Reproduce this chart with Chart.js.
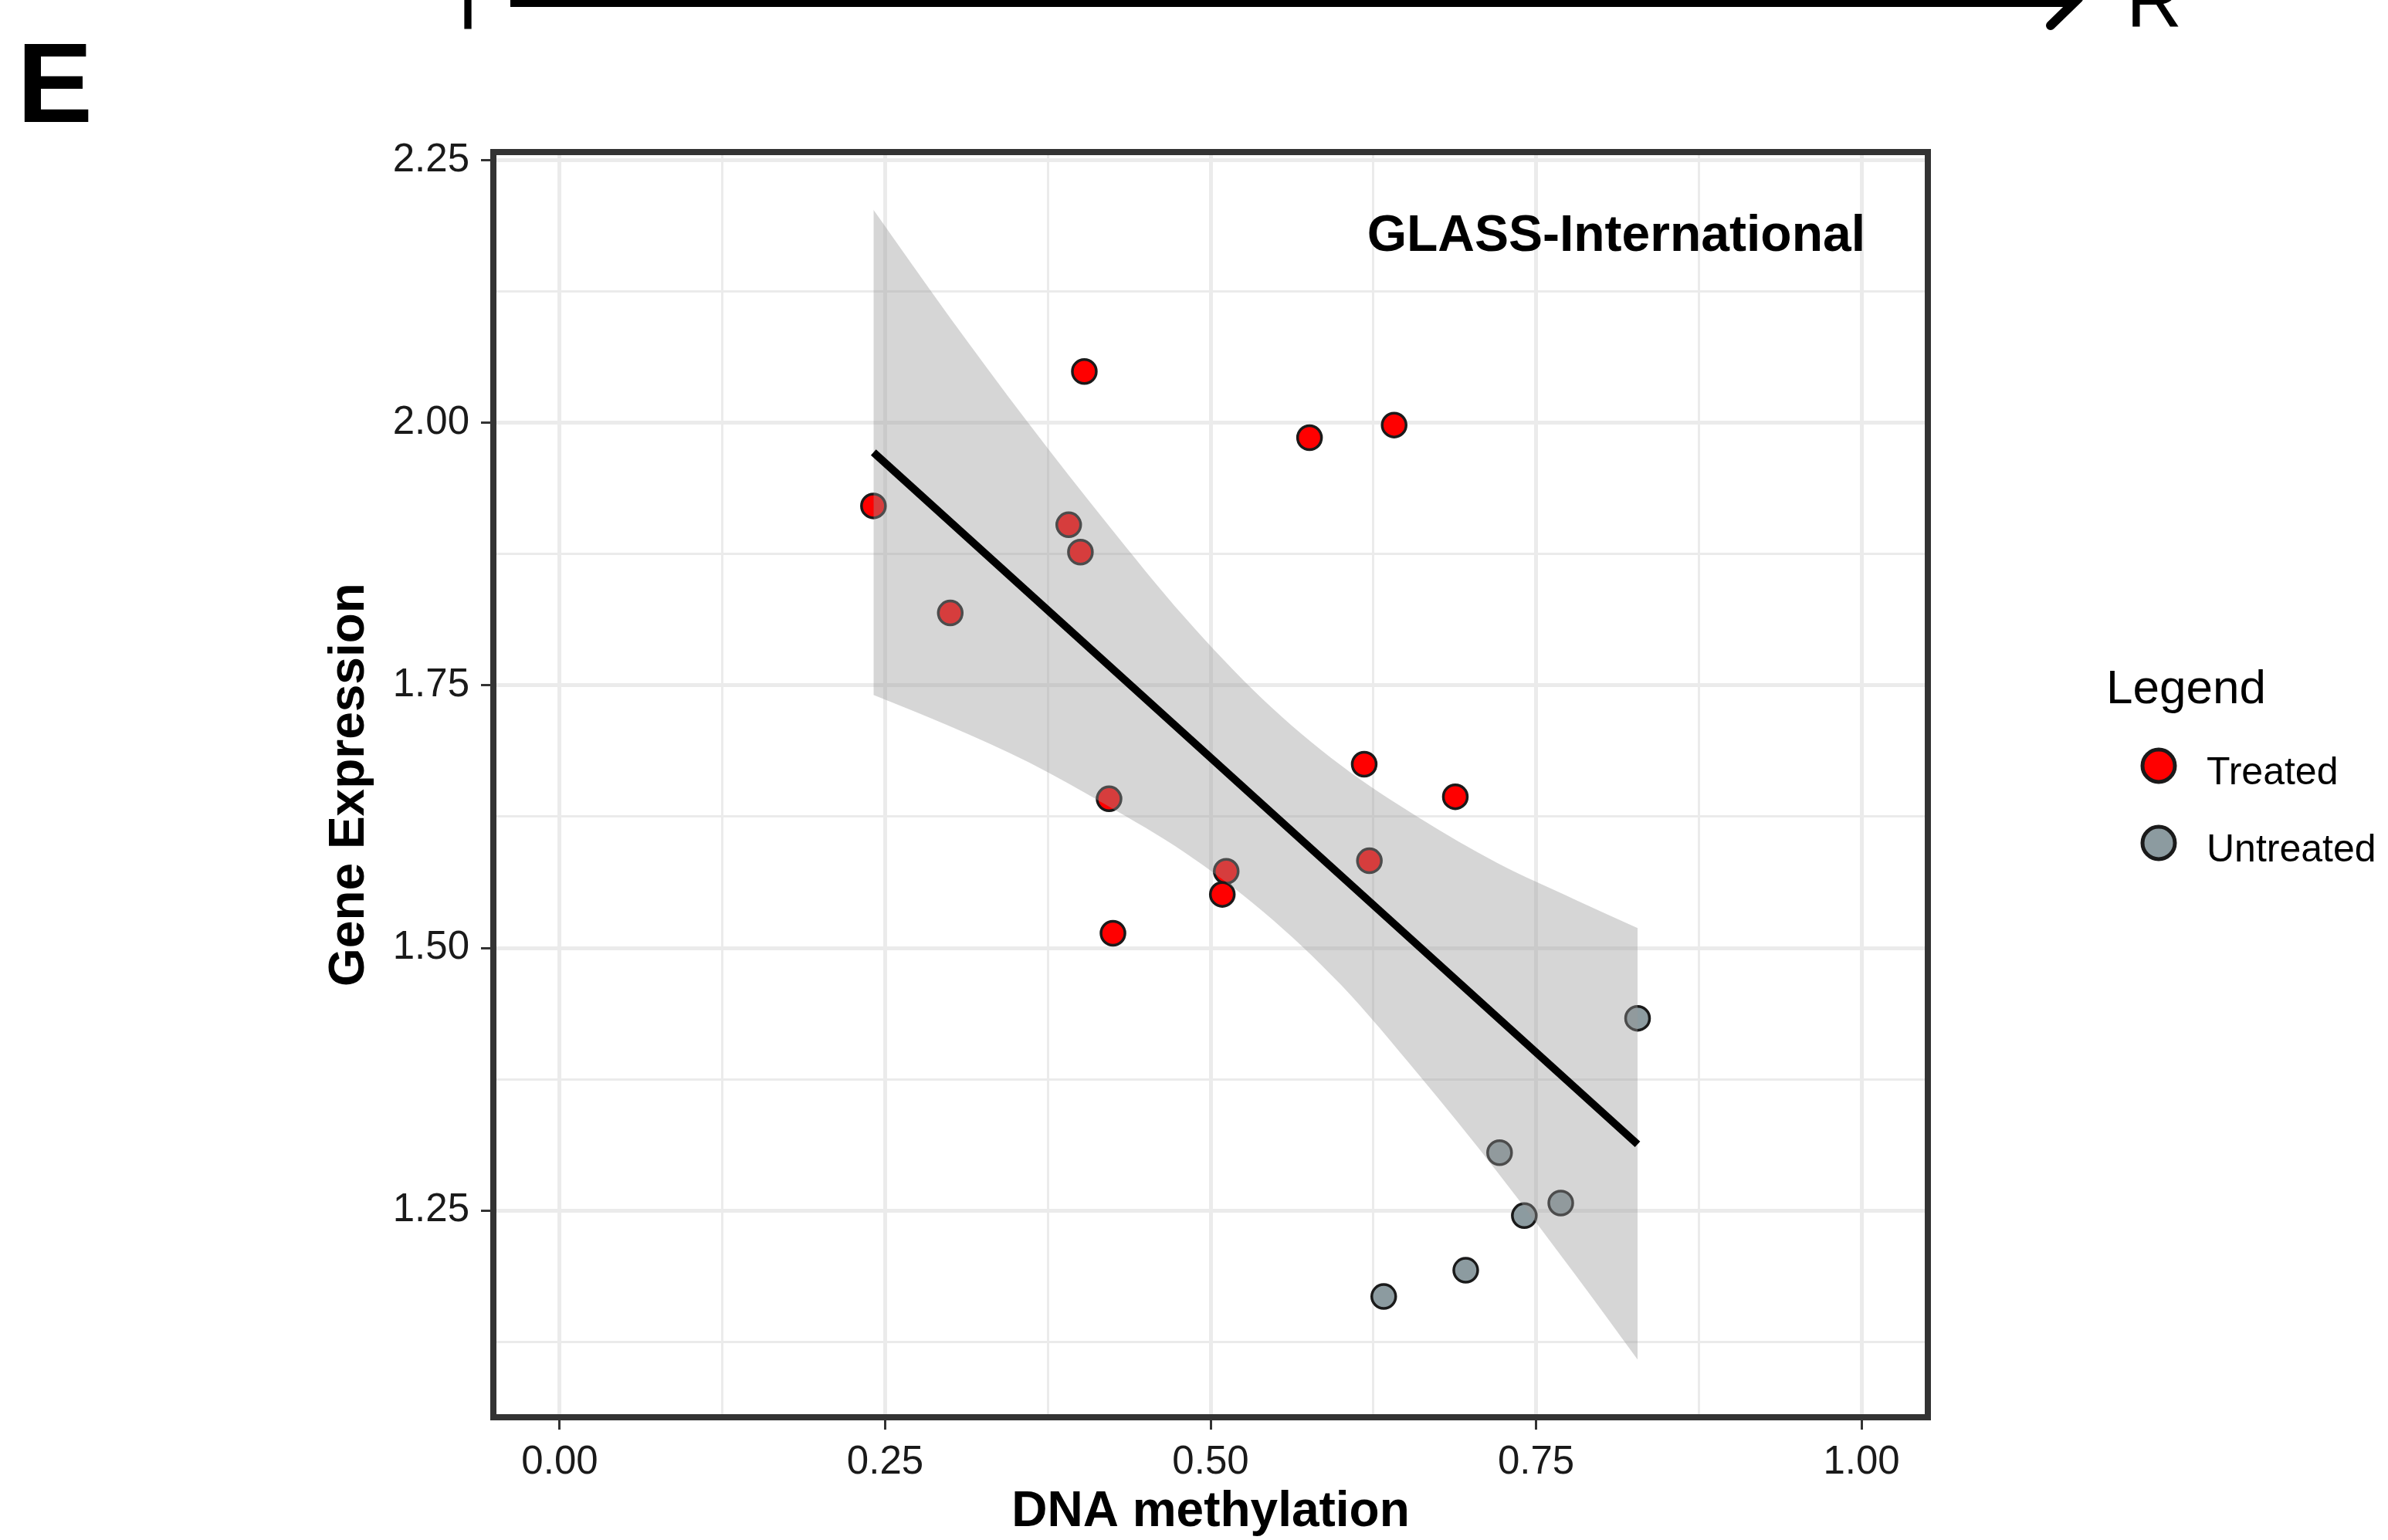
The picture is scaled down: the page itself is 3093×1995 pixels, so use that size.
<!DOCTYPE html>
<html>
<head>
<meta charset="utf-8">
<title>GLASS-International: DNA methylation vs Gene Expression</title>
<script src="https://cdn.jsdelivr.net/npm/chart.js@4.4.1/dist/chart.umd.min.js"></script>
<style>
  html, body { margin: 0; padding: 0; background: #ffffff; }
  #wrap { width: 3093px; height: 1995px; }
</style>
</head>
<body>
<div id="wrap"><canvas id="methylationChart" width="3093" height="1995"></canvas></div>
<script>
// points
var treatedX = [0.241, 0.300, 0.403, 0.391, 0.400, 0.422, 0.425, 0.512, 0.509, 0.576, 0.641, 0.618, 0.622, 0.688];
var treatedY = [1.921, 1.819, 2.049, 1.903, 1.877, 1.642, 1.514, 1.573, 1.551, 1.986, 1.998, 1.675, 1.583, 1.644];
var untreatedX = [0.828, 0.722, 0.769, 0.741, 0.696, 0.633];
var untreatedY = [1.433, 1.305, 1.257, 1.245, 1.193, 1.168];

// fitted line and its confidence band
var fitX = [0.241, 0.828];
var fitY = [1.972, 1.313];
var bandX = [0.241, 0.30, 0.36, 0.42, 0.48, 0.54, 0.60, 0.66, 0.72, 0.78, 0.828];
var bandUpper = [2.203, 2.100, 2.000, 1.905, 1.815, 1.737, 1.674, 1.624, 1.581, 1.546, 1.519];
var bandLower = [1.741, 1.711, 1.677, 1.636, 1.591, 1.535, 1.465, 1.379, 1.287, 1.189, 1.108];

// axis ticks
var xMajor = [0, 0.25, 0.5, 0.75, 1];
var xLabels = ['0.00', '0.25', '0.50', '0.75', '1.00'];
var xMinor = [0.125, 0.375, 0.625, 0.875];
var yMajor = [1.25, 1.5, 1.75, 2.0, 2.25];
var yLabels = ['1.25', '1.50', '1.75', '2.00', '2.25'];
var yMinor = [1.125, 1.375, 1.625, 1.875, 2.125];

var FONT = "'Liberation Sans', Arial, Helvetica, sans-serif";
Chart.defaults.font.family = FONT;

function toPoints(xs, ys) {
    return xs.map(function(x, i) { return {x: x, y: ys[i]}; });
}

function majorIndex(list, v) {
    for (var i = 0; i < list.length; i++) {
        if (Math.abs(list[i] - v) < 1e-6) return i;
    }
    return -1;
}

function axisOptions(major, labels, minor, min, max) {
    return {
        type: 'linear',
        min: min,
        max: max,
        afterBuildTicks: function(scale) {
            scale.ticks = major.concat(minor).sort(function(a, b) { return a - b; })
                .map(function(v) { return {value: v}; });
        },
        grid: {
            color: '#ebebeb',
            lineWidth: function(c) { return c.tick && majorIndex(major, c.tick.value) >= 0 ? 5 : 3; },
            tickColor: function(c) { return c.tick && majorIndex(major, c.tick.value) >= 0 ? '#333333' : 'rgba(0,0,0,0)'; },
            tickWidth: 3,
            tickLength: 16,
            drawTicks: true
        },
        border: { display: false },
        ticks: {
            autoSkip: false,
            maxRotation: 0,
            minRotation: 0,
            color: '#1a1a1a',
            font: { size: 51 },
            callback: function(v) {
                var i = majorIndex(major, v);
                return i >= 0 ? labels[i] : '';
            }
        }
    };
}

var xAxis = axisOptions(xMajor, xLabels, xMinor, -0.051, 1.051);
xAxis.afterFit = function(scale) { scale.height = 159; };
xAxis.ticks.padding = 12;
xAxis.title = {
    display: true, text: 'DNA methylation', color: '#000000',
    font: { size: 64, weight: 'bold' }, padding: { top: 0, bottom: -3 }
};

var yAxis = axisOptions(yMajor, yLabels, yMinor, 1.053, 2.258);
yAxis.afterFit = function(scale) { scale.width = 230; };
yAxis.ticks.padding = 15;
yAxis.title = {
    display: true, text: 'Gene Expression', color: '#000000',
    font: { size: 64, weight: 'bold' }, padding: { top: 6, bottom: 0 }
};

// panel border, annotation, legend and the cut-off header of the figure
var decorations = {
    id: 'decorations',
    afterDraw: function(chart) {
        var ctx = chart.ctx;
        var a = chart.chartArea;
        ctx.save();

        ctx.strokeStyle = '#333333';
        ctx.lineWidth = 8;
        ctx.strokeRect(a.left, a.top, a.right - a.left, a.bottom - a.top);

        ctx.fillStyle = '#000000';
        ctx.textBaseline = 'alphabetic';
        ctx.textAlign = 'right';
        ctx.font = 'bold 66px ' + FONT;
        ctx.fillText('GLASS-International', 2416, 325);

        // legend
        ctx.textAlign = 'left';
        ctx.font = '62px ' + FONT;
        ctx.fillText('Legend', 2728, 911);
        var sets = chart.data.datasets.filter(function(d) { return d.inLegend; });
        sets.forEach(function(d, i) {
            var cy = 992 + i * 100;
            ctx.beginPath();
            ctx.arc(2796, cy, 21, 0, Math.PI * 2);
            ctx.fillStyle = d.backgroundColor;
            ctx.fill();
            ctx.lineWidth = 5;
            ctx.strokeStyle = '#1a1a1a';
            ctx.stroke();
            ctx.fillStyle = '#000000';
            ctx.font = '50px ' + FONT;
            ctx.textBaseline = 'middle';
            ctx.fillText(d.label, 2858, cy + 10);
            ctx.textBaseline = 'alphabetic';
        });

        // panel letter
        ctx.font = 'bold 147px ' + FONT;
        ctx.fillText('E', 22, 158);

        // arrow from the panel above (cut off at the top edge)
        ctx.strokeStyle = '#000000';
        ctx.lineCap = 'butt';
        ctx.lineWidth = 14;
        ctx.beginPath();
        ctx.moveTo(661, 2);
        ctx.lineTo(2688, 2);
        ctx.stroke();
        ctx.lineCap = 'round';
        ctx.lineWidth = 12;
        ctx.beginPath();
        ctx.moveTo(2692, -2);
        ctx.lineTo(2656, 33);
        ctx.stroke();

        ctx.font = '100px ' + FONT;
        ctx.textAlign = 'center';
        ctx.fillText('T', 606, 37);
        ctx.textAlign = 'left';
        ctx.fillText('R', 2754, 35);

        ctx.restore();
    }
};

var ctxChart = document.getElementById('methylationChart').getContext('2d');

var methylationChart = new Chart(ctxChart, {
    type: 'scatter',
    data: {
        datasets: [
            {
                type: 'line',
                label: 'Linear fit',
                data: toPoints(fitX, fitY),
                borderColor: '#000000',
                borderWidth: 10,
                pointRadius: 0,
                fill: false,
                order: 0
            },
            {
                type: 'line',
                label: 'CI upper',
                data: toPoints(bandX, bandUpper),
                borderColor: 'rgba(0,0,0,0)',
                borderWidth: 0,
                pointRadius: 0,
                backgroundColor: 'rgba(153,153,153,0.4)',
                fill: '+1',
                cubicInterpolationMode: 'monotone',
                order: 1
            },
            {
                type: 'line',
                label: 'CI lower',
                data: toPoints(bandX, bandLower),
                borderColor: 'rgba(0,0,0,0)',
                borderWidth: 0,
                pointRadius: 0,
                fill: false,
                cubicInterpolationMode: 'monotone',
                order: 2
            },
            {
                label: 'Treated',
                inLegend: true,
                data: toPoints(treatedX, treatedY),
                backgroundColor: '#ff0000',
                borderColor: '#1a1a1a',
                borderWidth: 3.5,
                pointRadius: 15.5,
                order: 3
            },
            {
                label: 'Untreated',
                inLegend: true,
                data: toPoints(untreatedX, untreatedY),
                backgroundColor: '#8c9ba0',
                borderColor: '#1a1a1a',
                borderWidth: 3.5,
                pointRadius: 15.5,
                order: 4
            }
        ]
    },
    options: {
        responsive: false,
        maintainAspectRatio: false,
        animation: false,
        devicePixelRatio: 1,
        layout: {
            padding: { left: 409, top: 197, right: 596, bottom: 0 }
        },
        plugins: {
            legend: { display: false },
            tooltip: { enabled: false }
        },
        scales: {
            x: xAxis,
            y: yAxis
        }
    },
    plugins: [decorations]
});
</script>
</body>
</html>
